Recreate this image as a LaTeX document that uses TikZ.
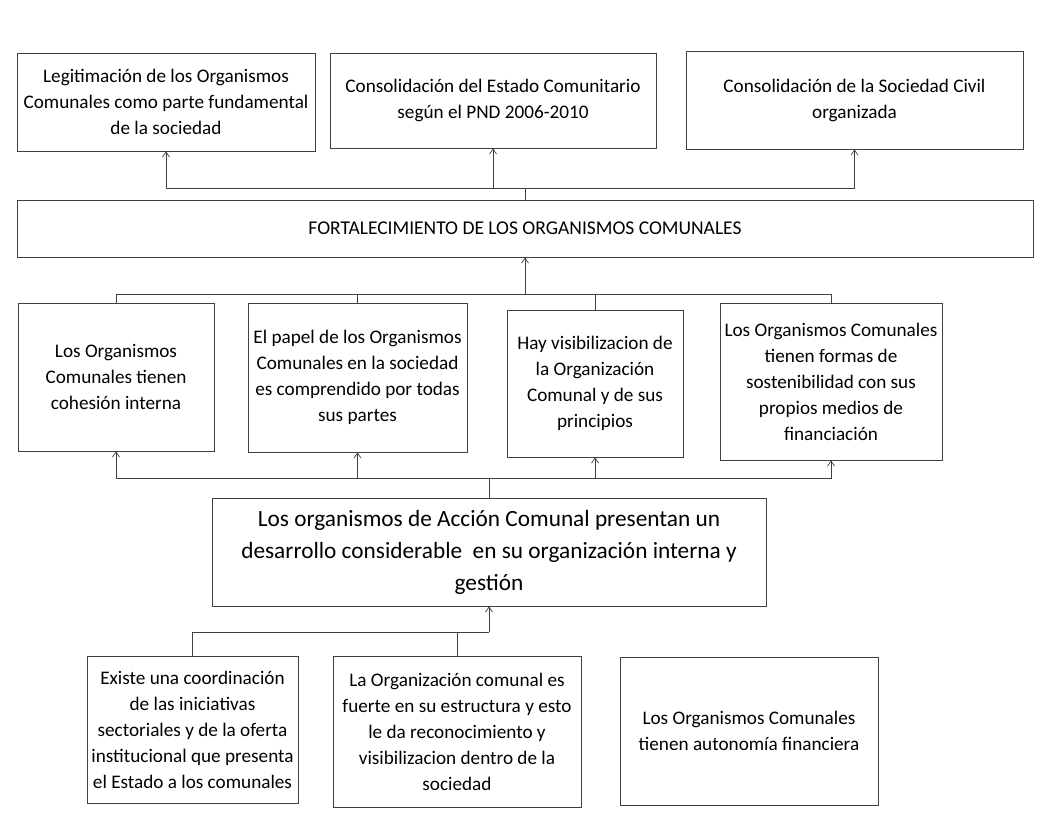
\documentclass[tikz,border=0pt]{standalone}
\usepackage{fontspec}
\setmainfont{Carlito}
\usetikzlibrary{arrows.meta}
\definecolor{ln}{HTML}{404040}
\tikzset{
  box/.style={draw=ln, line width=0.9pt, rectangle, align=center, inner sep=2pt, text=black,
    font=\fontsize{19.2}{26}\selectfont},
  bigbox/.style={box, font=\fontsize{23.3}{32}\selectfont},
  conn/.style={draw=ln, line width=0.9pt},
  arr/.style={conn, -{Straight Barb[length=5pt,width=7pt,line width=0.7pt]}},
}
\begin{document}
\begin{tikzpicture}[x=1pt,y=-1pt]
\useasboundingbox[fill=white] (0,0) rectangle (1047,823);
% top row
\node[box, minimum width=298pt, minimum height=98pt] (A) at (166,102) {Legitimación de los Organismos\\Comunales como parte fundamental\\de la sociedad};
\node[box, minimum width=326pt, minimum height=95pt] (B) at (493,100.5) {Consolidación del Estado Comunitario\\según el PND 2006-2010};
\node[box, minimum width=337pt, minimum height=98pt] (C) at (854.5,100) {Consolidación de la Sociedad Civil\\organizada};
% central
\node[box, font=\fontsize{19.5}{26}\selectfont, minimum width=1016pt, minimum height=57pt] (F) at (525,228.5) {FORTALECIMIENTO DE LOS ORGANISMOS COMUNALES};
% middle row
\node[box, minimum width=196pt, minimum height=148pt] (D1) at (116,377) {Los Organismos\\Comunales tienen\\cohesión interna};
\node[box, minimum width=219pt, minimum height=149pt] (D2) at (357.5,377.5) {El papel de los Organismos\\Comunales en la sociedad\\es comprendido por todas\\sus partes};
\node[box, minimum width=176pt, minimum height=147pt] (D3) at (595,383.5) {Hay visibilizacion de\\la Organización\\Comunal y de sus\\principios};
\node[box, minimum width=222pt, minimum height=157pt] (D4) at (831,381.5) {Los Organismos Comunales\\tienen formas de\\sostenibilidad con sus\\propios medios de\\financiación};
% G
\node[bigbox, minimum width=554pt, minimum height=108pt] (G) at (489,552) {Los organismos de Acción Comunal presentan un\\desarrollo considerable\ \ en su organización interna y\\gestión};
% bottom row
\node[box, minimum width=211pt, minimum height=147pt] (H1) at (192.5,729.5) {Existe una coordinación\\de las iniciativas\\sectoriales y de la oferta\\institucional que presenta\\el Estado a los comunales};
\node[box, minimum width=248pt, minimum height=151pt] (H2) at (457,731.5) {La Organización comunal es\\fuerte en su estructura y esto\\le da reconocimiento y\\visibilizacion dentro de la\\sociedad};
\node[box, minimum width=258pt, minimum height=148pt] (H3) at (749,731) {Los Organismos Comunales\\tienen autonomía financiera};
% junction coordinates
\coordinate (j1) at (525,188);
\coordinate (j2) at (525,294);
\coordinate (j3) at (489,478);
\coordinate (j4) at (489,632);
% F -> top row
\draw[conn] (F.north) -- (j1);
\draw[arr] (j1) -| (A.south);
\draw[arr] (j1) -| (B.south);
\draw[arr] (j1) -| (C.south);
% middle row -> F
\draw[arr] (j2) -- (F.south);
\draw[conn] (j2) -| (D1.north);
\draw[conn] (j2) -| (D2.north);
\draw[conn] (j2) -| (D3.north);
\draw[conn] (j2) -| (D4.north);
% G -> middle row
\draw[conn] (G.north) -- (j3);
\draw[arr] (j3) -| (D1.south);
\draw[arr] (j3) -| (D2.south);
\draw[arr] (j3) -| (D3.south);
\draw[arr] (j3) -| (D4.south);
% bottom -> G
\draw[arr] (j4) -- (G.south);
\draw[conn] (j4) -| (H1.north);
\draw[conn] (j4) -| (H2.north);
\end{tikzpicture}
\end{document}
